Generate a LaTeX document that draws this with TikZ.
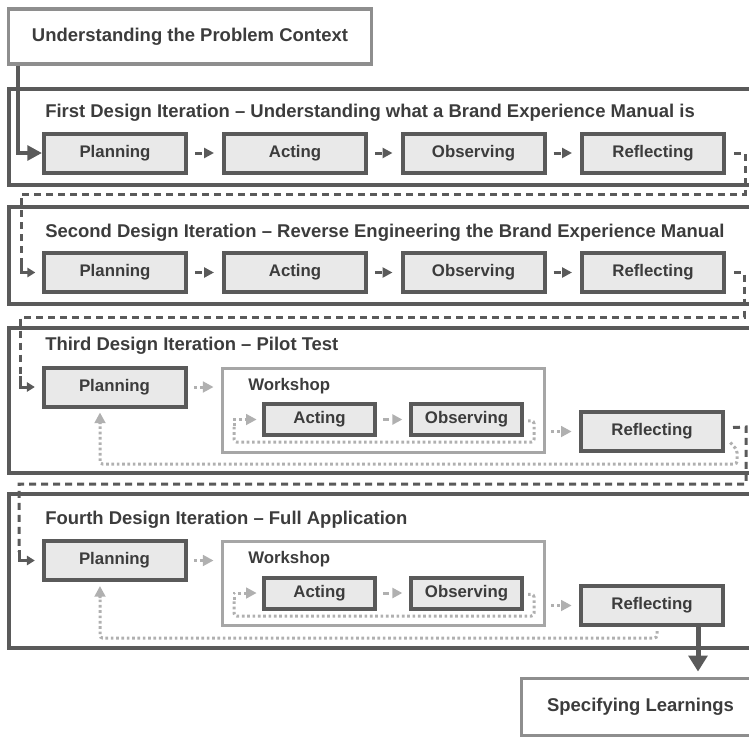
\documentclass[tikz,border=0pt]{standalone}
\usepackage{fontspec}
\setmainfont{Liberation Sans}
\usetikzlibrary{arrows.meta}
\definecolor{dk}{HTML}{5A5A5A}
\definecolor{md}{HTML}{8E8E8E}
\definecolor{lt}{HTML}{A6A6A6}
\definecolor{la}{HTML}{B0B0B0}
\definecolor{fillg}{HTML}{E9E9E9}
\definecolor{txt}{HTML}{3C3C3C}
\begin{document}
\begin{tikzpicture}[x=0.75pt,y=-0.75pt,
  every node/.style={font=\bfseries\fontsize{13.85}{16}\selectfont, text=txt, inner sep=0pt},
  lbl/.style={font=\bfseries\fontsize{12.6}{15}\selectfont},
  proc/.style={lbl, draw=dk, line width=3pt, fill=fillg, minimum width=106.5pt, minimum height=29.25pt},
  smallproc/.style={lbl, draw=dk, line width=3pt, fill=fillg, minimum width=83.25pt, minimum height=23.25pt},
  iterbox/.style={draw=dk, line width=3pt},
  plainbox/.style={draw=md, line width=2.4pt, fill=white},
  wsbox/.style={draw=lt, line width=2.4pt, minimum width=241.5pt, minimum height=63pt},
  ttl/.style={anchor=west},
  dkstep/.style={draw=dk, line width=2.25pt, dash pattern=on 5.25pt off 20pt, -{Triangle[length=7.5pt,width=7.5pt]}},
  dkloop/.style={draw=dk, line width=2.25pt, dash pattern=on 5.25pt off 3.75pt},
  dkin/.style={draw=dk, line width=2.25pt, -{Triangle[length=6pt,width=7pt]}},
  ltstep/.style={draw=la, line width=2.25pt, dash pattern=on 4.5pt off 20pt, -{Triangle[length=7.5pt,width=7.5pt]}},
  ltdot/.style={draw=la, line width=2.25pt, dash pattern=on 2pt off 2.25pt, -{Triangle[length=8pt,width=8pt]}},
  ltloop/.style={draw=la, line width=2.25pt, dash pattern=on 2pt off 2pt, rounded corners=2pt}
]
\useasboundingbox (0,0) rectangle (749,739);
\clip (0,0) rectangle (749,739);

% iteration frames
\draw[iterbox] (9,89) rectangle (780,184.5);
\draw[iterbox] (9,206.5) rectangle (780,303.5);
\draw[iterbox] (9,328) rectangle (780,473);
\draw[iterbox] (9,493.5) rectangle (780,648);

% top box
\node[plainbox, minimum width=272.25pt, minimum height=41.25pt] (ctx) at (190,36.5) {Understanding the Problem Context};

% titles
\node[ttl] (t1) at (45,113) {First Design Iteration -- Understanding what a Brand Experience Manual is};
\node[ttl] (t2) at (45,233) {Second Design Iteration -- Reverse Engineering the Brand Experience Manual};
\node[ttl] (t3) at (45,346) {Third Design Iteration -- Pilot Test};
\node[ttl] (t4) at (45,520) {Fourth Design Iteration -- Full Application};

% row 1
\node[proc] (p1) at (115,153) {Planning};
\node[proc] (a1) at (295,153) {Acting};
\node[proc] (o1) at (473.5,153) {Observing};
\node[proc] (r1) at (653,153) {Reflecting};
% row 2
\node[proc] (p2) at (115,272.5) {Planning};
\node[proc] (a2) at (295,272.5) {Acting};
\node[proc] (o2) at (473.5,272.5) {Observing};
\node[proc] (r2) at (653,272.5) {Reflecting};

% row 3
\node[proc] (p3) at (114.5,387) {Planning};
\node[wsbox] (w3) at (383.5,410.5) {};
\node[lbl, anchor=west] (wl3) at (248,386) {Workshop};
\node[smallproc] (a3) at (319.5,419.5) {Acting};
\node[smallproc] (o3) at (466.5,419.5) {Observing};
\node[proc] (r3) at (652,431.5) {Reflecting};

% row 4
\node[proc] (p4) at (114.5,560.5) {Planning};
\node[wsbox] (w4) at (383.5,583.5) {};
\node[lbl, anchor=west] (wl4) at (248,559) {Workshop};
\node[smallproc] (a4) at (319.5,593) {Acting};
\node[smallproc] (o4) at (466.5,593) {Observing};
\node[proc] (r4) at (652,605.5) {Reflecting};

% specifying learnings
\node[plainbox, minimum width=178.5pt, minimum height=42.75pt] (sl) at (640.5,707) {Specifying Learnings};

% entry connector
\draw[draw=dk, line width=3pt, -{Triangle[length=11pt,width=11pt]}]
  ([xshift=8.25pt]ctx.south west) |- (p1.west);

% steps rows 1 and 2
\foreach \r in {1,2}{
  \draw[dkstep] ([xshift=5.25pt]p\r.east) -- ([xshift=-6pt]a\r.west);
  \draw[dkstep] ([xshift=5.25pt]a\r.east) -- ([xshift=-6pt]o\r.west);
  \draw[dkstep] ([xshift=5.25pt]o\r.east) -- ([xshift=-6pt]r\r.west);
}

% loops between iterations
\draw[dkloop] ([xshift=6pt]r1.east) -- (745,153) -- (745,194) -- (21,194) -- (21,264);
\draw[dkin] (21,262) |- ([xshift=-5pt]p2.west);
\draw[dkloop] ([xshift=6pt]r2.east) -- (744,272.5) -- (744,317) -- (20,317) -- (20,378);
\draw[dkin] (20,376) |- ([xshift=-5pt]p3.west);
\draw[dkloop] ([xshift=6pt,yshift=3pt]r3.east) -- (746,427) -- (746,484) -- (19,484) -- (19,552);
\draw[dkin] (19,550) |- ([xshift=-5pt]p4.west);

% row 3/4 inner arrows
\foreach \r in {3,4}{
  \draw[ltdot] ([xshift=5pt]p\r.east) -- ([xshift=-5.5pt]p\r.east -| w\r.west);
  \draw[ltstep] ([xshift=4.5pt]a\r.east) -- ([xshift=-5pt]o\r.west);
  \draw[ltdot] ([xshift=4pt]w\r.east |- r\r.west) -- ([xshift=-5.5pt]r\r.west);
}
\draw[ltloop] ([xshift=3pt,yshift=-1pt]o3.east) -| (534,442) -| (234,425);
\draw[ltdot] (234,426) |- ([xshift=-4pt]a3.west);
\draw[ltloop] ([xshift=3pt,yshift=-1pt]o4.east) -| (534,616) -| (234,599);
\draw[ltdot] (234,600) |- ([xshift=-4pt]a4.west);

% feedback loops
\draw[ltloop] ([xshift=4pt,yshift=-8.25pt]r3.east) -- (737,450) -- (737,464) -- (100,464) -- (100,422);
\draw[ltdot] (100,424) -- ([xshift=-10.9pt,yshift=-3pt]p3.south);
\draw[ltloop] ([xshift=3.75pt,yshift=-3pt]r4.south) |- (100,638) -- (100,596);
\draw[ltdot] (100,598) -- ([xshift=-10.9pt,yshift=-3pt]p4.south);

% final arrow
\draw[draw=dk, line width=3.75pt, -{Triangle[length=12pt,width=14pt]}]
  ([xshift=34.5pt]r4.south) -- ([xshift=34.5pt,yshift=4pt]r4.south |- sl.north);
\end{tikzpicture}
\end{document}
